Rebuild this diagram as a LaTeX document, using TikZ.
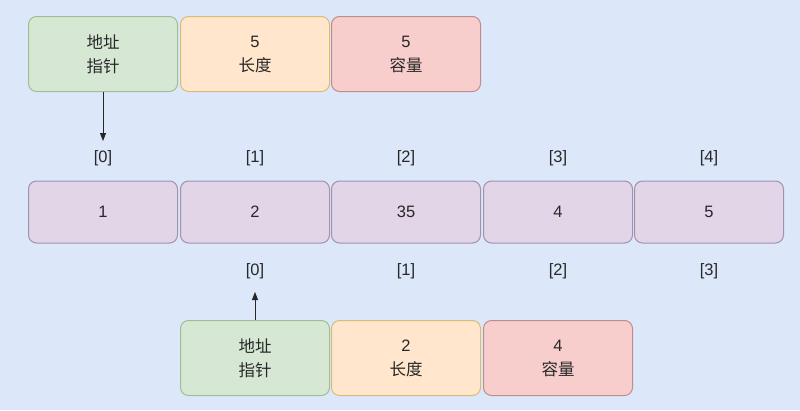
\documentclass[tikz,border=0pt]{standalone}
\usepackage{fontspec}
\setmainfont{Liberation Sans}
\newfontfamily\cjk{Noto Sans CJK SC}
\usetikzlibrary{arrows.meta}
\definecolor{bg}{RGB}{220,232,250}
\definecolor{gfill}{RGB}{214,232,212}
\definecolor{gdraw}{RGB}{160,190,150}
\definecolor{ofill}{RGB}{255,230,204}
\definecolor{odraw}{RGB}{215,190,120}
\definecolor{rfill}{RGB}{248,206,204}
\definecolor{rdraw}{RGB}{190,140,140}
\definecolor{pfill}{RGB}{225,213,231}
\definecolor{pdraw}{RGB}{160,145,175}
\definecolor{txt}{RGB}{40,40,40}
\tikzset{
  cell/.style={rounded corners=8pt, minimum width=149pt, minimum height=#1, line width=1pt, inner sep=0pt, align=center, font=\fontsize{16.5}{24}\selectfont, text=txt},
  gbox/.style={cell=75pt, fill=gfill, draw=gdraw},
  obox/.style={cell=75pt, fill=ofill, draw=odraw},
  rbox/.style={cell=75pt, fill=rfill, draw=rdraw},
  pbox/.style={cell=62pt, fill=pfill, draw=pdraw},
  idx/.style={font=\fontsize{16.5}{18}\selectfont, text=txt, inner sep=0pt},
  arr/.style={-{Triangle[length=8pt,width=6pt]}, line width=0.9pt, draw=black!85}
}
\begin{document}
\begin{tikzpicture}[x=1pt,y=-1pt]
\fill[bg] (0,0) rectangle (800,410);
\useasboundingbox (0,0) rectangle (800,410);
% top slice header
\node[gbox] (tp) at (103,54) {{\cjk 地址}\\{\cjk 指针}};
\node[obox] (tl) at (255,54) {5\\{\cjk 长度}};
\node[rbox] (tc) at (406,54) {5\\{\cjk 容量}};
% array
\node[pbox] (a0) at (103,212) {1};
\node[pbox] (a1) at (255,212) {2};
\node[pbox] (a2) at (406,212) {35};
\node[pbox] (a3) at (558,212) {4};
\node[pbox] (a4) at (709,212) {5};
% top indices
\node[idx] (t0) at (103,158) {[0]};
\node[idx] (t1) at (255,158) {[1]};
\node[idx] (t2) at (406,158) {[2]};
\node[idx] (t3) at (558,158) {[3]};
\node[idx] (t4) at (709,158) {[4]};
% bottom indices
\node[idx] (b0) at (255,271) {[0]};
\node[idx] (b1) at (406,271) {[1]};
\node[idx] (b2) at (558,271) {[2]};
\node[idx] (b3) at (709,271) {[3]};
% bottom slice header
\node[gbox] (bp) at (255,358) {{\cjk 地址}\\{\cjk 指针}};
\node[obox] (bl) at (406,358) {2\\{\cjk 长度}};
\node[rbox] (bc) at (558,358) {4\\{\cjk 容量}};
% arrows
\coordinate (e1) at (103,141);
\coordinate (e2) at (255,292);
\draw[arr] (tp.south) -- (e1);
\draw[arr] (bp.north) -- (e2);
\end{tikzpicture}
\end{document}
